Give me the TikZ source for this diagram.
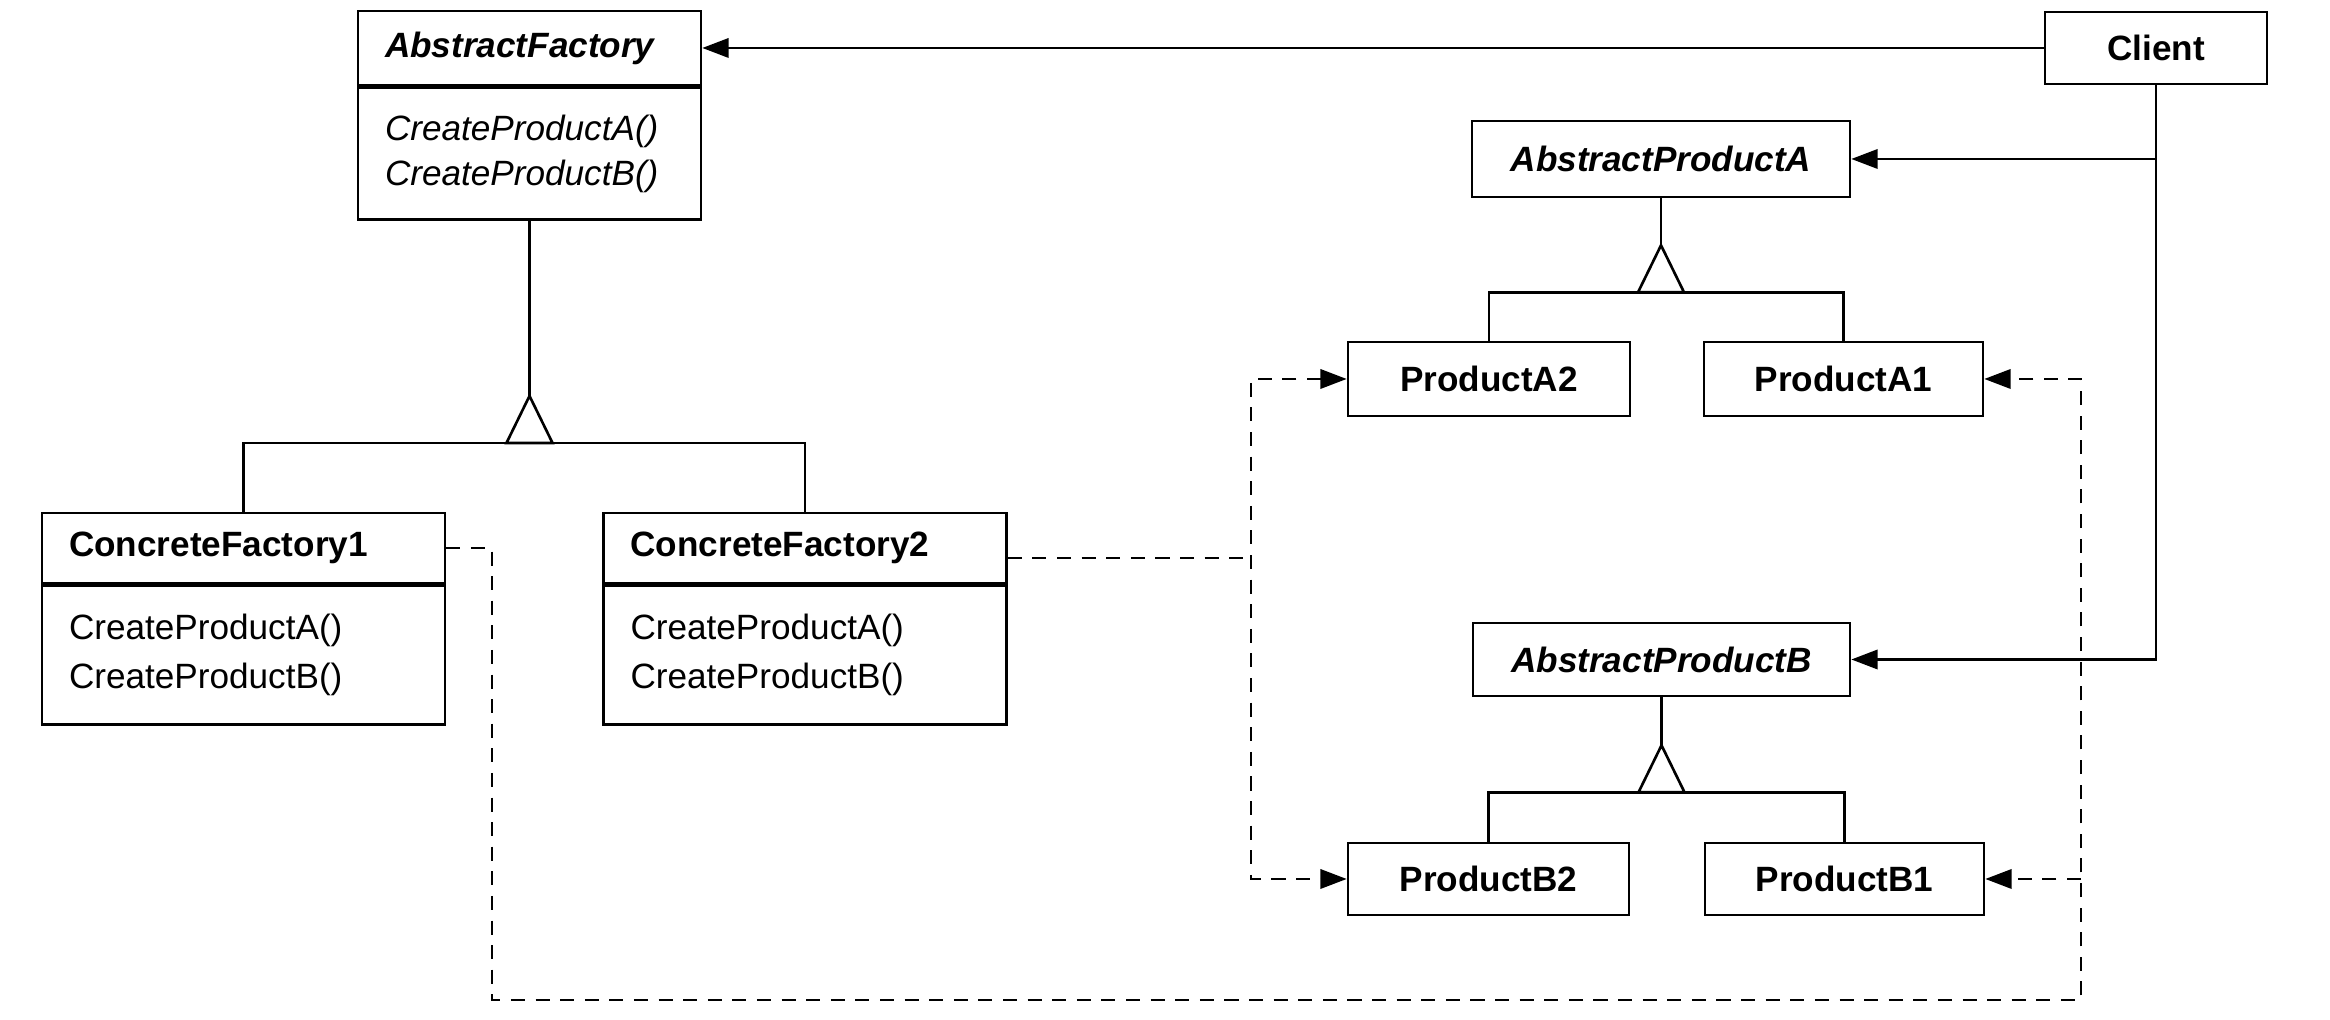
\documentclass[tikz,border=0pt]{standalone}
\usepackage{fontspec}
\setmainfont{Liberation Sans}
\usetikzlibrary{arrows.meta,calc}

\tikzset{
  trait/.style={line width=0.75pt},
  classe/.style={draw, trait, font=\bfseries, minimum height=0.74cm, inner sep=0pt},
  abstraite/.style={classe, font=\bfseries\itshape},
  entete/.style={draw, trait, inner ysep=0pt, inner xsep=0.27cm, align=left, minimum height=0.74cm},
  operations/.style={draw, trait, anchor=north, inner ysep=0pt, inner xsep=0.27cm, align=left},
  pointille/.style={trait, dash pattern=on 4pt off 3pt},
  fleche/.style={trait, -{Triangle[length=7.5pt,width=5.5pt]}},
  dep/.style={pointille, -{Triangle[length=7.5pt,width=5.5pt]}},
}

%heritage : parent, descente jusqu'au sommet, fils gauche, fils droit
\newcommand{\heritage}[4]{%
  \draw[trait] (#1.south) -- ++(0,-#2) coordinate (sommet);
  \draw[trait] (#3.north) |- ($(sommet)+(0,-0.47)$) -| (#4.north);
  \draw[trait, fill=white] (sommet) -- ++(-0.23,-0.47) -- ++(0.46,0) -- cycle;
}

\begin{document}
\begin{tikzpicture}
	\useasboundingbox (0,0) rectangle (23.3,10.2);
	%fabriques
	\node[entete, text width=2.89cm, font=\bfseries\itshape] (af) at (5.295,9.72) {AbstractFactory};
	\node[operations, text width=2.89cm, minimum height=1.32cm, font={\fontsize{10}{12.8}\selectfont\itshape}] (afm) at (af.south) {CreateProductA()\\CreateProductB()};
	\node[entete, text width=3.49cm, minimum height=0.70cm, font=\bfseries] (cf1) at (2.435,4.72) {ConcreteFactory1};
	\node[operations, text width=3.49cm, minimum height=1.39cm, font={\fontsize{10}{14}\selectfont}] (cf1m) at (cf1.south) {CreateProductA()\\CreateProductB()};
	\node[entete, text width=3.49cm, minimum height=0.70cm, font=\bfseries] (cf2) at (8.05,4.72) {ConcreteFactory2};
	\node[operations, text width=3.49cm, minimum height=1.39cm, font={\fontsize{10}{14}\selectfont}] (cf2m) at (cf2.south) {CreateProductA()\\CreateProductB()};
	%client
	\node[classe, minimum width=2.22cm, minimum height=0.72cm] (client) at (21.56,9.72) {Client};
	%produits
	\node[abstraite, minimum width=3.78cm, minimum height=0.76cm] (apa) at (16.61,8.61) {AbstractProductA};
	\node[classe, minimum width=2.82cm] (pa2) at (14.89,6.41) {ProductA2};
	\node[classe, minimum width=2.79cm] (pa1) at (18.435,6.41) {ProductA1};
	\node[abstraite, minimum width=3.77cm, minimum height=0.73cm] (apb) at (16.615,3.605) {AbstractProductB};
	\node[classe, minimum width=2.81cm, minimum height=0.72cm] (pb2) at (14.885,1.41) {ProductB2};
	\node[classe, minimum width=2.79cm, minimum height=0.72cm] (pb1) at (18.445,1.41) {ProductB1};
	%fin
	%heritages
	\heritage{afm}{1.75}{cf1}{cf2}
	\heritage{apa}{0.47}{pa2}{pa1}
	\heritage{apb}{0.48}{pb2}{pb1}
	%associations du client
	\draw[fleche] (client.west) -- (af.east);
	\draw[fleche] (client.south) |- (apb.east);
	\draw[fleche] (client.south |- apa.east) -- (apa.east);
	%creations (pointilles)
	\coordinate (coin1) at (4.92,0.20);
	\coordinate (coin2) at (20.81,0.20);
	\coordinate (rail) at (12.51,1.41);
	\draw[dep] (cf1.east) -| (coin1) -- (coin2) |- (pa1.east);
	\draw[dep] (coin2 |- pb1.east) -- (pb1.east);
	\draw[pointille, {Triangle[length=7.5pt,width=5.5pt]}-{Triangle[length=7.5pt,width=5.5pt]}] (pa2.west) -| (rail) -- (pb2.west);
	\draw[pointille] ([yshift=-0.1cm]cf2.east) -- ([yshift=-0.1cm]cf2.east -| rail);
\end{tikzpicture}
\end{document}
